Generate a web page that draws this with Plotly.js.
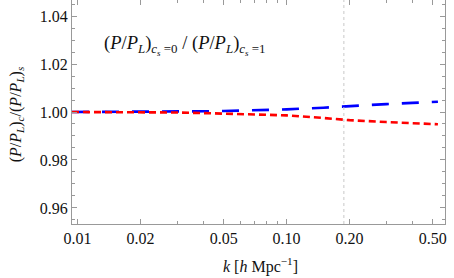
<!DOCTYPE html>
<html>
<head>
<meta charset="utf-8">
<script src="https://cdn.plot.ly/plotly-3.0.1.min.js"></script>
<style>html,body{margin:0;padding:0;background:#fff;}#chart{width:454px;height:278px;}</style>
</head>
<body>
<div id="chart"></div>
<script>
const k = [0.0094, 0.01, 0.015, 0.02, 0.03, 0.04, 0.05, 0.07, 0.1, 0.15, 0.2, 0.3, 0.4, 0.53];
const ratioBlue = [1.0, 1.0, 1.00005, 1.0001, 1.0002, 1.0003, 1.0004, 1.0007, 1.0011, 1.0018, 1.0025, 1.0033, 1.0038, 1.0043];
const ratioRed = [1.0, 1.0, 0.99998, 0.99995, 0.9998, 0.99955, 0.9993, 0.9990, 0.9986, 0.9975, 0.9966, 0.9958, 0.9953, 0.9949];
const kMark = [0.188];
const xTickVals = [0.01, 0.02, 0.05, 0.1, 0.2, 0.5];
const xTickText = ['0.01', '0.02', '0.05', '0.10', '0.20', '0.50'];
const xMinorVals = [0.03, 0.04, 0.06, 0.07, 0.08, 0.09, 0.3, 0.4];
const yTickVals = [0.96, 0.98, 1.00, 1.02, 1.04];
const yTickText = ['0.96', '0.98', '1.00', '1.02', '1.04'];
const yMinorVals = [0.955, 0.965, 0.97, 0.975, 0.985, 0.99, 0.995, 1.005, 1.01, 1.015, 1.025, 1.03, 1.035, 1.045];

const serif = 'Liberation Serif';
const frameColor = '#999999';

const traces = [
  {x: k, y: ratioBlue, mode: 'lines', line: {color: '#0000ff', width: 2.6, dash: '17px,13px'}, hoverinfo: 'skip'},
  {x: k, y: ratioRed, mode: 'lines', line: {color: '#ff0000', width: 2.6, dash: '7px,4px'}, hoverinfo: 'skip'}
];

const layout = {
  width: 454, height: 278,
  margin: {l: 72, r: 9, t: 0, b: 54},
  paper_bgcolor: '#fff', plot_bgcolor: '#fff',
  showlegend: false,
  font: {family: serif, size: 16, color: '#111'},
  xaxis: {
    type: 'log', range: [Math.log10(0.0094), Math.log10(0.573)],
    tickmode: 'array', tickvals: xTickVals, ticktext: xTickText,
    ticks: 'inside', ticklen: 5, tickwidth: 1, tickcolor: frameColor,
    showline: true, linecolor: frameColor, linewidth: 1, mirror: 'ticks',
    showgrid: false, zeroline: false,
    tickfont: {family: serif, size: 16, color: '#111'},
    minor: {tickmode: 'array', tickvals: xMinorVals, ticks: 'inside', ticklen: 3, tickcolor: frameColor, showgrid: false}
  },
  yaxis: {
    range: [0.9533, 1.0467],
    tickmode: 'array', tickvals: yTickVals, ticktext: yTickText,
    ticks: 'inside', ticklen: 5, tickwidth: 1, tickcolor: frameColor,
    showline: true, linecolor: frameColor, linewidth: 1, mirror: 'ticks',
    showgrid: false, zeroline: false,
    tickfont: {family: serif, size: 16, color: '#111'},
    minor: {tickmode: 'array', tickvals: yMinorVals, ticks: 'inside', ticklen: 3, tickcolor: frameColor, showgrid: false}
  },
  shapes: kMark.map(v => ({type: 'line', xref: 'x', yref: 'paper', x0: v, x1: v, y0: 0, y1: 1,
    line: {color: '#c8c8c8', width: 1, dash: 'dot'}})),
  annotations: [
    {xref: 'paper', yref: 'paper', x: 0.303, y: 0.795, xanchor: 'center', yanchor: 'middle', showarrow: false,
     text: '(<i>P</i>/<i>P<sub>L</sub></i>)<sub><i>c<sub>s</sub></i> =0</sub> / (<i>P</i>/<i>P<sub>L</sub></i>)<sub><i>c<sub>s</sub></i> =1</sub>',
     font: {family: serif, size: 18.5, color: '#111'}},
    {xref: 'paper', yref: 'paper', x: -0.15, y: 0.49, xanchor: 'center', yanchor: 'middle', showarrow: false, textangle: -90,
     text: '(<i>P</i>/<i>P<sub>L</sub></i>)<sub><i>c</i></sub>/(<i>P</i>/<i>P<sub>L</sub></i>)<sub><i>s</i></sub>',
     font: {family: serif, size: 16, color: '#111'}},
    {xref: 'paper', yref: 'paper', x: 0.506, y: -0.187, xanchor: 'center', yanchor: 'middle', showarrow: false,
     text: '<i>k</i> [<i>h</i> Mpc<sup>−1</sup>]',
     font: {family: serif, size: 16, color: '#111'}}
  ]
};

Plotly.newPlot('chart', traces, layout, {staticPlot: true, displayModeBar: false});
</script>
</body>
</html>
